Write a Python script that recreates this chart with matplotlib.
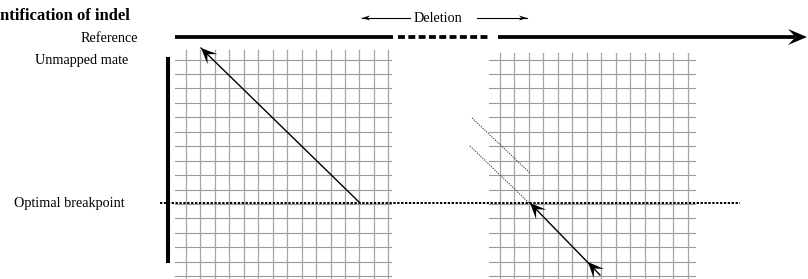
import numpy as np
import matplotlib
matplotlib.use("Agg")
from matplotlib import pyplot as plt
from matplotlib.patches import Polygon

# diagram data (pixel-like units, y grows downwards)
W, H = 808, 279
cell = 14.45
row_top = 59.5
n_rows = 16
left_cols_x0, left_ncols = 186, 15
left_hspan = [175, 391]
right_cols_x0, right_ncols = 500, 14
right_hspan = [489, 695]
vline_top = [50, 53]

ref_y = 37
ref_solid = [175, 393]
ref_dashed = [398, 489]
ref_arrow = [498, 807]
del_y = 18
del_left = [410, 362]
del_right = [477, 527]

bp_y = 203
bp_span = [160, 740]
mate_x = 168
mate_span = [57, 263]

left_read = [(360, 203), (201, 48)]
right_read = [(600, 275), (530, 203)]
right_mid_tip = (588, 262)
dotted_reads = [[(472, 118), (530, 173)], [(470, 146), (529, 203)]]

labels = ["Reference", "Unmapped mate", "Optimal breakpoint"]
label_x = [138, 128, 125]
label_y = [42, 64, 207]

serif = ["Liberation Serif", "DejaVu Serif"]


def head(ax, tip, frm, L=16, hw=7, notch=0.55, lw=0):
    tip = np.array(tip, float)
    d = tip - np.array(frm, float)
    d /= np.hypot(*d)
    n = np.array([-d[1], d[0]])
    pts = [tip, tip - L * d + hw * n, tip - notch * L * d, tip - L * d - hw * n]
    ax.add_patch(Polygon(pts, closed=True, fc="black", ec="black", lw=lw, zorder=5))


fig = plt.figure(figsize=(W / 100, H / 100), dpi=100)
ax = fig.add_axes([0, 0, 1, 1])
ax.set_xlim(0, W)
ax.set_ylim(H, 0)
ax.axis("off")

# grids
rows = row_top + cell * np.arange(n_rows)
for y in rows:
    ax.plot(left_hspan, [y, y], color="#999999", lw=0.8, zorder=1)
    ax.plot(right_hspan, [y, y], color="#999999", lw=0.8, zorder=1)
for x in left_cols_x0 + cell * np.arange(left_ncols):
    ax.plot([x, x], [vline_top[0], H + 5], color="#a5a5a5", lw=0.9, zorder=1)
for x in right_cols_x0 + cell * np.arange(right_ncols):
    ax.plot([x, x], [vline_top[1], H + 5], color="#a5a5a5", lw=0.9, zorder=1)

# reference
ax.plot(ref_solid, [ref_y, ref_y], color="black", lw=2.7, solid_capstyle="butt")
ax.plot(ref_dashed, [ref_y, ref_y], color="black", lw=2.7, linestyle=(0, (1.85, 0.9)),
        dash_capstyle="butt")
ax.plot([ref_arrow[0], ref_arrow[1] - 12], [ref_y, ref_y], color="black", lw=2.7,
        solid_capstyle="butt")
head(ax, (ref_arrow[1], ref_y), (ref_arrow[0], ref_y), L=19, hw=8, notch=0.6)

# deletion arrows
for a, b in (del_left, del_right):
    ax.plot([a, b], [del_y, del_y], color="black", lw=0.8)
    head(ax, (b, del_y), (a, del_y), L=8, hw=2.5, notch=0.7)
ax.text(437.5, 22, "Deletion", ha="center", va="baseline", fontsize=10.3, family=serif)

# unmapped mate bar and breakpoint
ax.plot([mate_x, mate_x], mate_span, color="black", lw=2.9, solid_capstyle="butt")
ax.plot(bp_span, [bp_y, bp_y], color="black", lw=1.4, linestyle=(0, (1.2, 0.8)), zorder=3)

# reads
(x0, y0), (x1, y1) = left_read
ax.plot([x0, x1], [y0, y1], color="black", lw=1.0, zorder=4)
head(ax, left_read[1], left_read[0])

(x0, y0), (x1, y1) = right_read
ax.plot([x0, x1], [y0, y1], color="black", lw=1.0, zorder=4)
head(ax, right_read[1], right_read[0])
head(ax, right_mid_tip, right_read[0])

for seg in dotted_reads:
    (x0, y0), (x1, y1) = seg
    ax.plot([x0, x1], [y0, y1], color="#333333", lw=0.8, linestyle=(0, (1, 1.2)), zorder=4)

# labels
for t, x, y in zip(labels, label_x, label_y):
    ax.text(x, y, t, ha="right", va="baseline", fontsize=10.3, family=serif)
ax.text(130, 20, "Identification of indel", ha="right", va="baseline", fontsize=12,
        fontweight="bold", family=serif)

fig.savefig("out.png", dpi=100)
